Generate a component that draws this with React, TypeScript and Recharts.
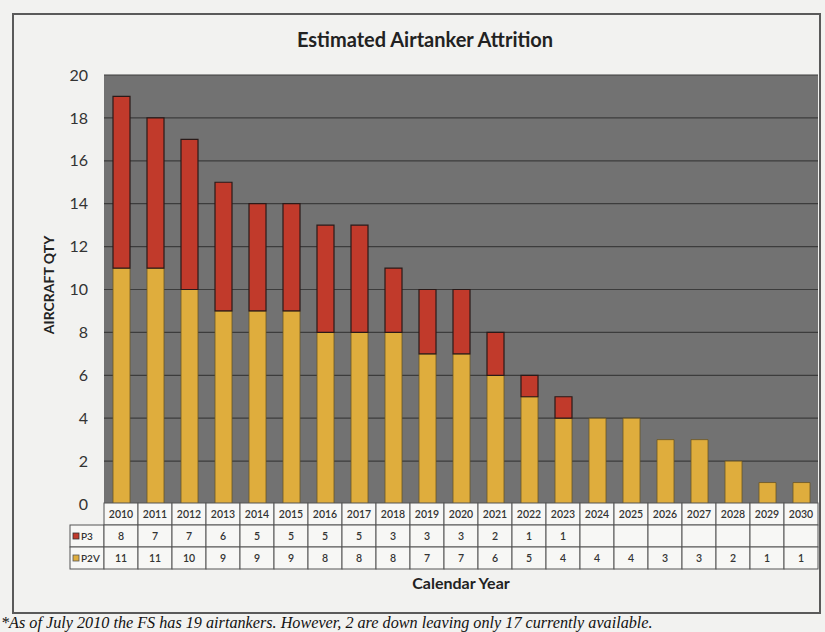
import React from 'react';
import { BarChart, Bar, XAxis, YAxis, CartesianGrid } from 'recharts';

const years = ['2010','2011','2012','2013','2014','2015','2016','2017','2018','2019','2020','2021','2022','2023','2024','2025','2026','2027','2028','2029','2030'];
const p3Values = [8, 7, 7, 6, 5, 5, 5, 5, 3, 3, 3, 2, 1, 1, 0, 0, 0, 0, 0, 0, 0];
const p2vValues = [11, 11, 10, 9, 9, 9, 8, 8, 8, 7, 7, 6, 5, 4, 4, 4, 3, 3, 2, 1, 1];
const yTicks = [0, 2, 4, 6, 8, 10, 12, 14, 16, 18, 20];

const P3_COLOR = '#c13a2b';
const P2V_COLOR = '#dfad3d';
const FONT = 'Lato, "Open Sans", sans-serif';

const data = years.map((y, i) => ({
  year: y,
  p2v: p2vValues[i],
  p3: p3Values[i] ? p3Values[i] : null,
}));

const BAND = 34;
const ROW = 22;

function TableTick(props: any) {
  const { x, y, payload, index } = props;
  const left = x - BAND / 2;
  const top = y - 1;
  const p3 = p3Values[index];
  const p2v = p2vValues[index];
  const cellStroke = '#555';
  const cellFill = '#f7f7f5';
  return (
    <g>
      {index === 0 && (
        <g>
          <rect x={left - BAND} y={top + ROW} width={BAND} height={ROW} fill={cellFill} stroke={cellStroke} strokeWidth={1} />
          <rect x={left - BAND} y={top + ROW * 2} width={BAND} height={ROW} fill={cellFill} stroke={cellStroke} strokeWidth={1} />
          <rect x={left - BAND + 3} y={top + ROW + 8} width={6} height={6} fill={P3_COLOR} stroke="#333" strokeWidth={0.8} />
          <text x={left - BAND + 11} y={top + ROW + 15} fontSize={10} fontFamily={FONT} fill="#333" fontWeight={600}>P3</text>
          <rect x={left - BAND + 3} y={top + ROW * 2 + 8} width={6} height={6} fill={P2V_COLOR} stroke="#555" strokeWidth={0.8} />
          <text x={left - BAND + 11} y={top + ROW * 2 + 15} fontSize={10} fontFamily={FONT} fill="#333" fontWeight={600}>P2V</text>
        </g>
      )}
      <rect x={left} y={top} width={BAND} height={ROW} fill={cellFill} stroke={cellStroke} strokeWidth={1} />
      <rect x={left} y={top + ROW} width={BAND} height={ROW} fill={cellFill} stroke={cellStroke} strokeWidth={1} />
      <rect x={left} y={top + ROW * 2} width={BAND} height={ROW} fill={cellFill} stroke={cellStroke} strokeWidth={1} />
      <text x={x} y={top + 15} textAnchor="middle" fontSize={10.5} fontFamily={FONT} fill="#333" fontWeight={600}>{payload.value}</text>
      <text x={x} y={top + ROW + 15} textAnchor="middle" fontSize={10.5} fontFamily={FONT} fill="#333" fontWeight={600}>{p3 ? p3 : ''}</text>
      <text x={x} y={top + ROW * 2 + 15} textAnchor="middle" fontSize={10.5} fontFamily={FONT} fill="#333" fontWeight={600}>{p2v}</text>
    </g>
  );
}

export default function App() {
  return (
    <div style={{ position: 'absolute', left: 0, top: 0, width: 825, height: 632, background: '#f2f2f0', overflow: 'hidden' }}>
      <div style={{ position: 'absolute', left: 12, top: 13, width: 809, height: 601, border: '2px solid #5a5a5a', boxSizing: 'border-box' }} />
      <div style={{ position: 'absolute', left: 0, top: 0 }}>
        <BarChart width={825} height={632} data={data} margin={{ top: 75, right: 7, bottom: 62, left: 64 }} barSize={17}>
          <CartesianGrid vertical={false} fill="#727272" stroke="#3c3c3c" strokeWidth={1.2} />
          <XAxis dataKey="year" interval={0} height={66} tickSize={0} tickMargin={0} tickLine={false} axisLine={false} tick={<TableTick />} />
          <YAxis domain={[0, 20]} ticks={yTicks} width={40} tickLine={false} axisLine={false} tickSize={0} tickMargin={16} tick={{ fill: '#333', fontSize: 16, fontFamily: FONT }} />
          <Bar dataKey="p2v" stackId="a" fill={P2V_COLOR} stroke="#6b5522" strokeWidth={0.8} isAnimationActive={false} />
          <Bar dataKey="p3" stackId="a" fill={P3_COLOR} stroke="#2a1a18" strokeWidth={1.2} isAnimationActive={false} />
        </BarChart>
      </div>
      <div style={{ position: 'absolute', left: 0, width: 850, top: 27, textAlign: 'center', fontFamily: FONT, fontWeight: 700, fontSize: 20, color: '#222' }}>
        Estimated Airtanker Attrition
      </div>
      <div style={{ position: 'absolute', left: 48, top: 285, width: 0, height: 0 }}>
        <div style={{ position: 'absolute', transform: 'translate(-50%, -50%) rotate(-90deg)', whiteSpace: 'nowrap', fontFamily: FONT, fontWeight: 700, fontSize: 14, color: '#222' }}>
          AIRCRAFT QTY
        </div>
      </div>
      <div style={{ position: 'absolute', left: 104, width: 714, top: 573, textAlign: 'center', fontFamily: FONT, fontWeight: 700, fontSize: 16, color: '#222' }}>
        Calendar Year
      </div>
      <div style={{ position: 'absolute', left: 1, top: 616, lineHeight: '15px', whiteSpace: 'nowrap', fontFamily: '"Liberation Serif", serif', fontStyle: 'italic', fontSize: 16.2, color: '#111' }}>
        *As of July 2010 the FS has 19 airtankers. However, 2 are down leaving only 17 currently available.
      </div>
    </div>
  );
}
